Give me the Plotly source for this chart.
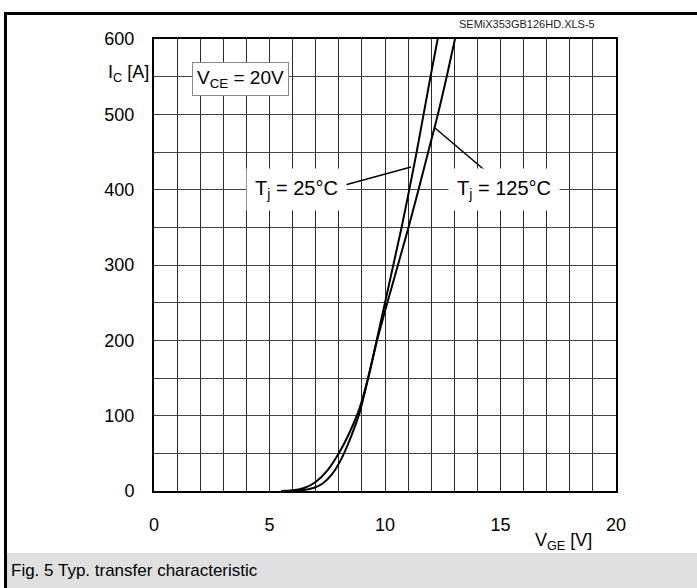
import plotly.graph_objects as go

# ---- data ----
vge_25 = [5.8, 6.4, 6.9, 7.3, 7.7, 8.1, 8.5, 8.9, 9.27, 9.64, 10.0, 10.36, 10.72, 11.05, 11.37, 11.67, 11.97, 12.28]
ic_25 = [0, 1, 4, 10, 22, 42, 70, 104, 150, 200, 250, 300, 350, 400, 450, 500, 550, 600]

vge_125 = [5.5, 6.0, 6.5, 7.0, 7.5, 8.0, 8.5, 8.9, 9.27, 9.66, 10.1, 10.56, 11.02, 11.45, 11.87, 12.29, 12.67, 13.03]
ic_125 = [0, 1, 4, 12, 27, 50, 80, 110, 150, 200, 250, 300, 350, 400, 450, 500, 550, 600]

x_ticks = [0, 5, 10, 15, 20]
y_ticks = [0, 100, 200, 300, 400, 500, 600]

W, H = 697, 588
L, R, T, B = 154, 616, 39, 491
XR = (0, 20)
YR = (0, 600)
FONT = "Liberation Sans, Arial, sans-serif"


def px(x):
    return (x - L) / (R - L)


def py(y):
    return (B - y) / (B - T)


def dx(x):
    return XR[0] + (x - L) / (R - L) * (XR[1] - XR[0])


def dy(y):
    return YR[0] + (B - y) / (B - T) * (YR[1] - YR[0])


fig = go.Figure()
for xs, ys in ((vge_25, ic_25), (vge_125, ic_125)):
    fig.add_trace(go.Scatter(x=xs, y=ys, mode="lines",
                             line=dict(color="black", width=2, shape="spline", smoothing=1.0),
                             showlegend=False, hoverinfo="skip"))

shapes = [
    # outer frame (top and left)
    dict(type="line", xref="paper", yref="paper", x0=px(5.5), x1=px(700), y0=py(13.5), y1=py(13.5),
         line=dict(color="black", width=3)),
    dict(type="line", xref="paper", yref="paper", x0=px(5.5), x1=px(5.5), y0=py(12), y1=py(600),
         line=dict(color="black", width=3)),
    # caption band
    dict(type="rect", xref="paper", yref="paper", x0=px(7), x1=px(700), y0=py(553), y1=py(600),
         fillcolor="#e0e0e0", line=dict(width=0), layer="below"),
    # leader lines
    dict(type="line", xref="x", yref="y", x0=dx(345), y0=dy(185), x1=dx(411), y1=dy(167),
         line=dict(color="black", width=1.5)),
    dict(type="line", xref="x", yref="y", x0=dx(435), y0=dy(128), x1=dx(488), y1=dy(173),
         line=dict(color="black", width=1.5)),
]

annotations = [
    dict(xref="paper", yref="paper", x=px(457), y=py(24), xanchor="left", yanchor="middle",
         text="SEMiX353GB126HD.XLS-5", showarrow=False, font=dict(family=FONT, size=11, color="#222")),
    dict(xref="paper", yref="paper", x=px(106), y=py(74), xanchor="left", yanchor="middle",
         text="I<sub>C</sub> [A]", showarrow=False, font=dict(family=FONT, size=18, color="black")),
    dict(xref="x", yref="y", x=dx(240), y=dy(79), xanchor="center", yanchor="middle",
         text="V<sub>CE</sub> = 20V", showarrow=False, bgcolor="white", bordercolor="#8a8a8a",
         borderwidth=1, borderpad=4, font=dict(family=FONT, size=19, color="black")),
    dict(xref="x", yref="y", x=dx(296), y=dy(189), xanchor="center", yanchor="middle",
         text="T<sub>j</sub> = 25°C", showarrow=False, bgcolor="white", borderpad=8,
         font=dict(family=FONT, size=20, color="black")),
    dict(xref="x", yref="y", x=dx(504), y=dy(189), xanchor="center", yanchor="middle",
         text="T<sub>j</sub> = 125°C", showarrow=False, bgcolor="white", borderpad=8,
         font=dict(family=FONT, size=20, color="black")),
    dict(xref="paper", yref="paper", x=px(563), y=py(541), xanchor="center", yanchor="middle",
         text="V<sub>GE</sub> [V]", showarrow=False, font=dict(family=FONT, size=18, color="black")),
    dict(xref="paper", yref="paper", x=px(9), y=py(570), xanchor="left", yanchor="middle",
         text="Fig. 5 Typ. transfer characteristic", showarrow=False,
         font=dict(family=FONT, size=17, color="black")),
]

fig.update_layout(
    width=W, height=H,
    margin=dict(l=L, r=W - R, t=T, b=H - B, pad=0),
    paper_bgcolor="white", plot_bgcolor="white",
    font=dict(family=FONT, size=18, color="black"),
    shapes=shapes, annotations=annotations,
    xaxis=dict(range=list(XR), tickvals=x_ticks, ticktext=[str(v) for v in x_ticks],
               showgrid=True, gridcolor="#2a2a2a", gridwidth=1.2,
               minor=dict(dtick=1, showgrid=True, gridcolor="#2a2a2a", gridwidth=1.2),
               showline=True, mirror=True, linecolor="black", linewidth=2,
               ticks="", zeroline=False, ticklabelstandoff=16,
               tickfont=dict(family=FONT, size=18, color="black")),
    yaxis=dict(range=list(YR), tickvals=y_ticks, ticktext=[str(v) for v in y_ticks],
               showgrid=True, gridcolor="#444", gridwidth=1.2,
               minor=dict(dtick=50, showgrid=True, gridcolor="#444", gridwidth=1.2),
               showline=True, mirror=True, linecolor="black", linewidth=2,
               ticks="", zeroline=False, ticklabelstandoff=14,
               tickfont=dict(family=FONT, size=18, color="black")),
)

fig.write_html("out.html")
